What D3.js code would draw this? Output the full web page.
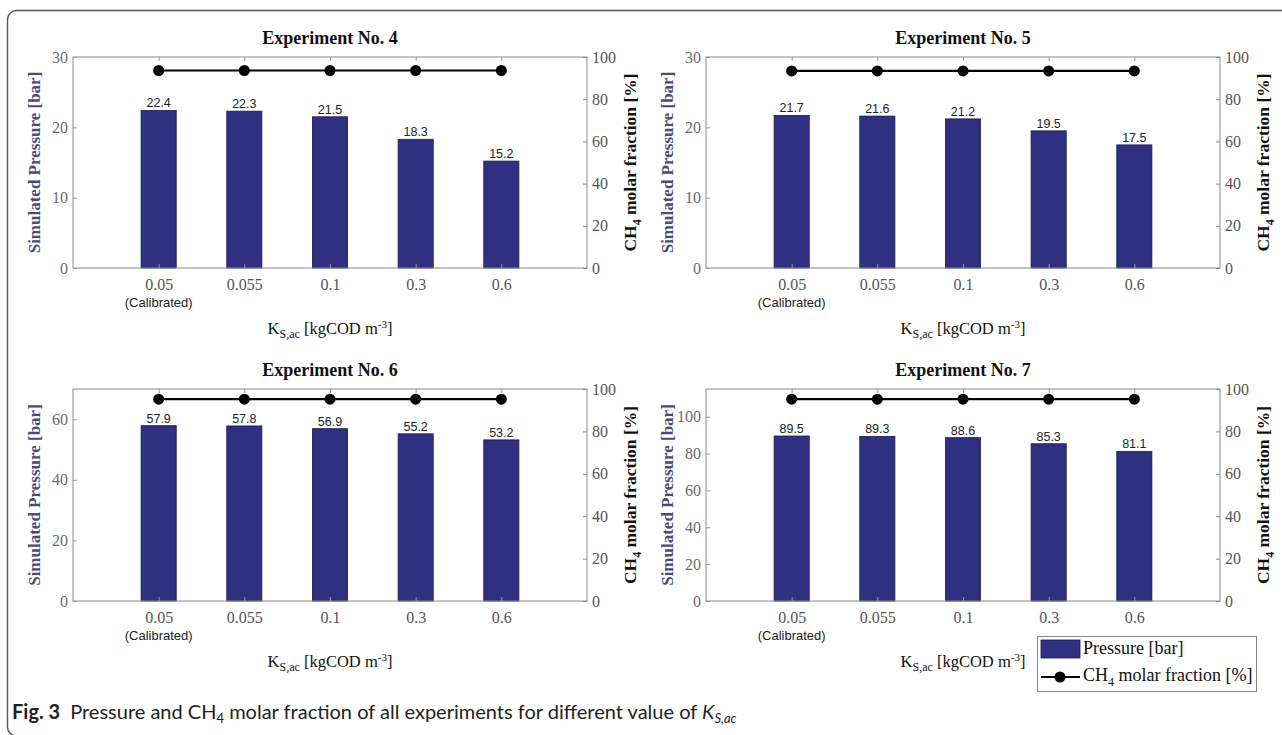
<!DOCTYPE html>
<html><head><meta charset="utf-8">
<script src="https://cdn.jsdelivr.net/npm/d3@7"></script>
<style>body{margin:0;background:#fff;} svg{display:block;}</style>
</head><body>
<svg id="chart" width="1282" height="735"></svg>
<script>
// ---- data ----
const categories = ["0.05", "0.055", "0.1", "0.3", "0.6"];
const experiments = ["Experiment No. 4", "Experiment No. 5", "Experiment No. 6", "Experiment No. 7"];
const exp4Pressure = [22.4, 22.3, 21.5, 18.3, 15.2];
const exp5Pressure = [21.7, 21.6, 21.2, 19.5, 17.5];
const exp6Pressure = [57.9, 57.8, 56.9, 55.2, 53.2];
const exp7Pressure = [89.5, 89.3, 88.6, 85.3, 81.1];
const exp4CH4 = [93.6, 93.6, 93.6, 93.6, 93.6];
const exp5CH4 = [93.4, 93.4, 93.4, 93.4, 93.4];
const exp6CH4 = [95.2, 95.2, 95.2, 95.2, 95.2];
const exp7CH4 = [95.2, 95.2, 95.2, 95.2, 95.2];
const pressureMax = [30, 30, 70, 115];
const pressureTicks4 = [0, 10, 20, 30];
const pressureTicks5 = [0, 10, 20, 30];
const pressureTicks6 = [0, 20, 40, 60];
const pressureTicks7 = [0, 20, 40, 60, 80, 100];
const ch4Ticks = [0, 20, 40, 60, 80, 100];

const pressures = [exp4Pressure, exp5Pressure, exp6Pressure, exp7Pressure];
const ch4s = [exp4CH4, exp5CH4, exp6CH4, exp7CH4];
const pTicks = [pressureTicks4, pressureTicks5, pressureTicks6, pressureTicks7];

// ---- layout ----
const layouts = [
  {l: 73, r: 587, t: 57, b: 268},
  {l: 706, r: 1220, t: 57, b: 268},
  {l: 73, r: 587, t: 389, b: 601},
  {l: 706, r: 1220, t: 389, b: 601}
];
const BAR = "#2f3081";
const SERIF = "'Liberation Serif','DejaVu Serif',serif";
const SANS = "'Liberation Sans',Arial,sans-serif";

const svg = d3.select("#chart");
svg.append("rect").attr("width", 1282).attr("height", 735).attr("fill", "#fff");

// outer frame
svg.append("rect").attr("x", 7.5).attr("y", 10.5).attr("width", 1300).attr("height", 725.5)
  .attr("rx", 9).attr("fill", "none").attr("stroke", "#555").attr("stroke-width", 1.4);

layouts.forEach((L, i) => {
  const g = svg.append("g");
  const x = d3.scalePoint().domain(categories).range([L.l, L.r]).padding(1);
  const yL = d3.scaleLinear().domain([0, pressureMax[i]]).range([L.b, L.t]);
  const yR = d3.scaleLinear().domain([0, 100]).range([L.b, L.t]);
  const bw = x.step() * 0.41;
  const data = categories.map((c, k) => ({c, p: pressures[i][k], m: ch4s[i][k]}));

  // bars
  g.selectAll("rect.bar").data(data).join("rect").attr("class", "bar")
    .attr("x", d => x(d.c) - bw / 2).attr("width", bw)
    .attr("y", d => yL(d.p)).attr("height", d => L.b - yL(d.p))
    .attr("fill", BAR).attr("stroke", "#1b1b4d").attr("stroke-width", 0.8);

  // value labels
  g.selectAll("text.val").data(data).join("text").attr("class", "val")
    .attr("x", d => x(d.c)).attr("y", d => yL(d.p) - 3)
    .attr("text-anchor", "middle").attr("font-family", SANS).attr("font-size", 12.5)
    .attr("fill", "#222").text(d => d.p.toFixed(1));

  // box
  g.append("rect").attr("x", L.l).attr("y", L.t).attr("width", L.r - L.l).attr("height", L.b - L.t)
    .attr("fill", "none").attr("stroke", "#8a8a8a").attr("stroke-width", 1);

  // bottom axis (ticks inward)
  const xa = g.append("g").attr("transform", `translate(0,${L.b})`)
    .call(d3.axisBottom(x).tickSizeInner(-4).tickSizeOuter(0).tickPadding(11));
  xa.select(".domain").remove();
  xa.selectAll("line").attr("stroke", "#999");
  xa.selectAll("text").attr("font-family", SERIF).attr("font-size", 16).attr("fill", "#555");
  // top ticks
  const xt = g.append("g").attr("transform", `translate(0,${L.t})`)
    .call(d3.axisTop(x).tickSizeInner(-4).tickSizeOuter(0).tickFormat(""));
  xt.select(".domain").remove();
  xt.selectAll("line").attr("stroke", "#999");

  // left axis
  const la = g.append("g").attr("transform", `translate(${L.l},0)`)
    .call(d3.axisLeft(yL).tickValues(pTicks[i]).tickSizeInner(-4).tickSizeOuter(0).tickPadding(5));
  la.select(".domain").remove();
  la.selectAll("line").attr("stroke", "#999");
  la.selectAll("text").attr("font-family", SERIF).attr("font-size", 16).attr("fill", "#6a6a6a");

  // right axis
  const ra = g.append("g").attr("transform", `translate(${L.r},0)`)
    .call(d3.axisRight(yR).tickValues(ch4Ticks).tickSizeInner(-4).tickSizeOuter(0).tickPadding(5));
  ra.select(".domain").remove();
  ra.selectAll("line").attr("stroke", "#888");
  ra.selectAll("text").attr("font-family", SERIF).attr("font-size", 16).attr("fill", "#555");

  // CH4 line
  g.append("path").datum(data)
    .attr("d", d3.line().x(d => x(d.c)).y(d => yR(d.m)))
    .attr("fill", "none").attr("stroke", "#000").attr("stroke-width", 2.2);
  g.selectAll("circle.m").data(data).join("circle").attr("class", "m")
    .attr("cx", d => x(d.c)).attr("cy", d => yR(d.m)).attr("r", 5.5).attr("fill", "#000");

  // title
  g.append("text").attr("x", (L.l + L.r) / 2).attr("y", L.t - 13)
    .attr("text-anchor", "middle").attr("font-family", SERIF).attr("font-weight", "bold")
    .attr("font-size", 18).attr("fill", "#111").text(experiments[i]);

  // (Calibrated)
  g.append("text").attr("x", x(categories[0])).attr("y", L.b + 39)
    .attr("text-anchor", "middle").attr("font-family", SANS).attr("font-size", 13)
    .attr("fill", "#222").text("(Calibrated)");

  // x label
  const xl = g.append("text").attr("x", (L.l + L.r) / 2).attr("y", L.b + 66)
    .attr("text-anchor", "middle").attr("font-family", SERIF).attr("font-size", 16.5).attr("fill", "#111");
  xl.append("tspan").text("K");
  xl.append("tspan").attr("font-size", 12).attr("dy", 4).text("S,ac");
  xl.append("tspan").attr("dy", -4).text(" [kgCOD m");
  xl.append("tspan").attr("font-size", 11).attr("dy", -6).text("-3");
  xl.append("tspan").attr("dy", 6).text("]");

  // left y label
  g.append("text").attr("transform", `translate(${L.l - 33},${(L.t + L.b) / 2}) rotate(-90)`)
    .attr("text-anchor", "middle").attr("font-family", SERIF).attr("font-weight", "bold")
    .attr("font-size", 17).attr("fill", "#4b4b7b").text("Simulated Pressure [bar]");

  // right y label
  const rl = g.append("text").attr("transform", `translate(${L.r + 49},${(L.t + L.b) / 2}) rotate(-90)`)
    .attr("text-anchor", "middle").attr("font-family", SERIF).attr("font-weight", "bold")
    .attr("font-size", 17.5).attr("fill", "#111");
  rl.append("tspan").text("CH");
  rl.append("tspan").attr("font-size", 12).attr("dy", 5).text("4");
  rl.append("tspan").attr("dy", -5).text(" molar fraction [%]");
});

// legend
const lg = svg.append("g");
lg.append("rect").attr("x", 1037.5).attr("y", 636.5).attr("width", 219).attr("height", 55)
  .attr("fill", "#fff").attr("stroke", "#888").attr("stroke-width", 1);
lg.append("rect").attr("x", 1041).attr("y", 640).attr("width", 39).attr("height", 18)
  .attr("fill", BAR).attr("stroke", "#1b1b4d").attr("stroke-width", 0.8);
lg.append("text").attr("x", 1083).attr("y", 654).attr("font-family", SERIF).attr("font-size", 18)
  .attr("fill", "#111").text("Pressure [bar]");
lg.append("line").attr("x1", 1041).attr("x2", 1080).attr("y1", 677).attr("y2", 677)
  .attr("stroke", "#000").attr("stroke-width", 2.2);
lg.append("circle").attr("cx", 1060).attr("cy", 677).attr("r", 5.5).attr("fill", "#000");
const lt = lg.append("text").attr("x", 1083).attr("y", 681).attr("font-family", SERIF).attr("font-size", 18).attr("fill", "#111");
lt.append("tspan").text("CH");
lt.append("tspan").attr("font-size", 12).attr("dy", 5).text("4");
lt.append("tspan").attr("dy", -5).text(" molar fraction [%]");

// caption
const cap = svg.append("text").attr("x", 12).attr("y", 719).attr("font-family", "Lato,'Open Sans',sans-serif")
  .attr("font-size", 20).attr("fill", "#222");
cap.append("tspan").attr("font-weight", "bold").text("Fig. 3");
cap.append("tspan").text("\u2002Pressure and CH");
cap.append("tspan").attr("font-size", 13).attr("dy", 4).text("4");
cap.append("tspan").attr("dy", -4).text(" molar fraction of all experiments for different value of ");
cap.append("tspan").attr("font-style", "italic").text("K");
cap.append("tspan").attr("font-style", "italic").attr("font-size", 13).attr("dy", 4).text("S,ac");
</script>
</body></html>
